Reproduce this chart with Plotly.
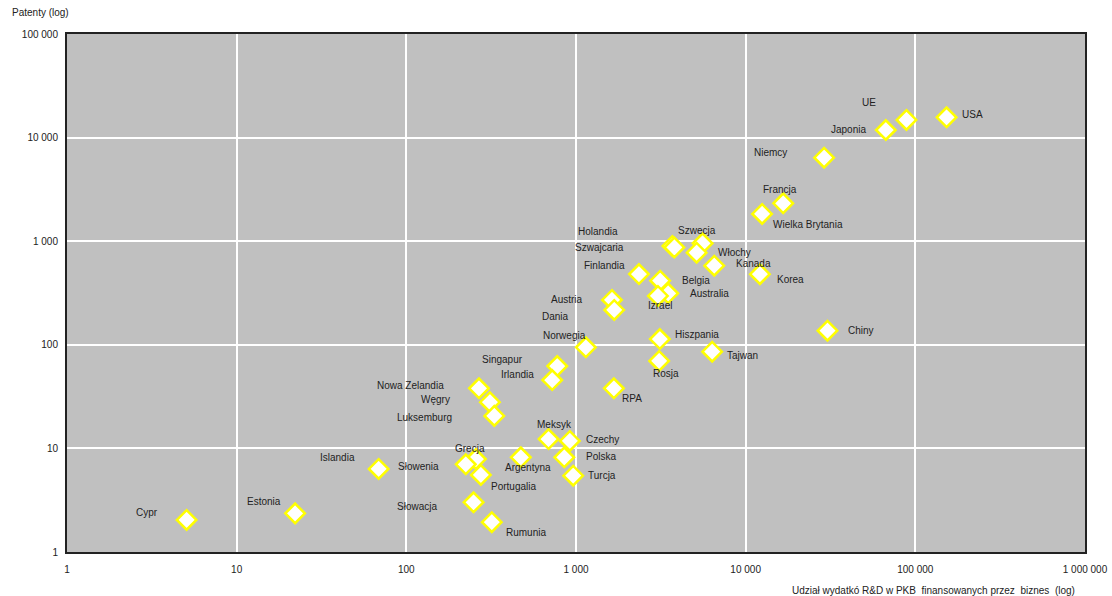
import math
import plotly.graph_objects as go

countries = ["USA", "UE", "Japonia", "Niemcy", "Francja", "Wielka Brytania",
             "Holandia", "Szwajcaria", "Szwecja", "Włochy", "Kanada", "Korea",
             "Finlandia", "Belgia", "Australia", "Izrael", "Austria", "Dania",
             "Norwegia", "Hiszpania", "Tajwan", "Chiny", "Rosja", "RPA",
             "Singapur", "Irlandia", "Nowa Zelandia", "Węgry", "Luksemburg",
             "Meksyk", "Czechy", "Polska", "Turcja", "Argentyna", "Grecja",
             "Słowenia", "Portugalia", "Słowacja", "Rumunia", "Islandia",
             "Estonia", "Cypr"]
rd_business = [152800, 88700, 67000, 29000, 16640, 12500,
               3700, 3800, 5570, 5140, 6530, 12130,
               2350, 3134, 3493, 3040, 1630, 1680,
               1143, 3120, 6350, 30360, 3092, 1672,
               775, 724, 268, 311, 330,
               689, 920, 853, 963, 473, 257,
               224, 275, 249, 319, 68.7,
               22.1, 5.07]
patents = [15700, 14790, 11840, 6400, 2323, 1832,
           900, 870, 955, 774, 580, 480,
           482, 416, 314, 296, 271, 217,
           94.6, 113.7, 85.8, 136.8, 69.8, 38.0,
           62.4, 45.7, 38.0, 27.9, 20.6,
           12.3, 11.8, 8.2, 5.45, 8.2, 7.9,
           7.03, 5.54, 3.02, 1.94, 6.33,
           2.36, 2.04]
# label placement: (xanchor, xshift px, yshift px up)
label_pos = {
    "USA": ("left", 13, 3), "UE": ("center", -38, 17), "Japonia": ("right", -18, 1),
    "Niemcy": ("right", -35, 5), "Francja": ("center", -3, 14),
    "Wielka Brytania": ("left", 9, -11), "Holandia": ("right", -52, 14),
    "Szwajcaria": ("right", -48, 0), "Szwecja": ("center", -6, 13),
    "Włochy": ("left", 19, 0), "Kanada": ("left", 20, 2), "Korea": ("left", 15, -5),
    "Finlandia": ("right", -12, 9), "Belgia": ("left", 20, 0),
    "Australia": ("left", 20, 0), "Izrael": ("center", 2, -10),
    "Austria": ("right", -27, 0), "Dania": ("right", -43, -7),
    "Norwegia": ("right", 2, 12), "Hiszpania": ("left", 13, 5),
    "Tajwan": ("left", 13, -4), "Chiny": ("left", 18, 0), "Rosja": ("center", 7, -13),
    "RPA": ("left", 6, -10), "Singapur": ("right", -32, 7),
    "Irlandia": ("right", -16, 6), "Nowa Zelandia": ("right", -33, 3),
    "Węgry": ("right", -38, 3), "Luksemburg": ("right", -40, -2),
    "Meksyk": ("center", 6, 15), "Czechy": ("left", 14, 1), "Polska": ("left", 20, 1),
    "Turcja": ("left", 13, 0), "Argentyna": ("center", 7, -10),
    "Grecja": ("center", -6, 11), "Słowenia": ("right", -25, -2),
    "Portugalia": ("left", 8, -12), "Słowacja": ("right", -35, -4),
    "Rumunia": ("left", 12, -10), "Islandia": ("right", -22, 11),
    "Estonia": ("right", -12, 12), "Cypr": ("right", -27, 7),
}
x_ticks = [1, 10, 100, 1000, 10000, 100000, 1000000]
x_ticktext = ["1", "10", "100", "1 000", "10 000", "100 000", "1 000 000"]
y_ticks = [1, 10, 100, 1000, 10000, 100000]
y_ticktext = ["1", "10", "100", "1 000", "10 000", "100 000"]

FONT = "Liberation Sans, Arial, sans-serif"
TXT = "#222222"
fig = go.Figure()
fig.add_trace(go.Scatter(
    x=rd_business, y=patents, mode="markers",
    marker=dict(symbol="diamond", size=15, color="white",
                line=dict(color="#ffff00", width=2.5)),
    hoverinfo="text", text=countries, showlegend=False))

for name, xv, yv in zip(countries, rd_business, patents):
    anchor, xs, ys = label_pos[name]
    # annotations on log axes take log10 coordinates
    fig.add_annotation(x=math.log10(xv), y=math.log10(yv), xref="x", yref="y",
                       text=name, showarrow=False,
                       xanchor=anchor, yanchor="middle", xshift=xs, yshift=ys,
                       font=dict(family=FONT, size=10, color=TXT))

fig.add_annotation(xref="paper", yref="paper", x=0, y=1, text="Patenty (log)",
                   showarrow=False, xanchor="left", yanchor="middle",
                   xshift=-57, yshift=22, font=dict(family=FONT, size=10, color=TXT))
fig.add_annotation(xref="paper", yref="paper", x=1, y=0,
                   text="Udział wydatkó R&D w PKB  finansowanych przez  biznes  (log)",
                   showarrow=False, xanchor="right", yanchor="middle",
                   xshift=-8, yshift=-38, font=dict(family=FONT, size=10, color=TXT))

fig.update_layout(
    width=1112, height=596,
    margin=dict(l=67, r=27, t=34, b=44, autoexpand=False),
    paper_bgcolor="white", plot_bgcolor="#c0c0c0",
    font=dict(family=FONT, size=10, color=TXT),
    xaxis=dict(type="log", range=[0, 6], tickvals=x_ticks, ticktext=x_ticktext,
               showgrid=True, gridcolor="white", gridwidth=2, zeroline=False,
               showline=True, linecolor="#222222", linewidth=2, mirror=True,
               ticks="", ticklabelstandoff=7, automargin=False),
    yaxis=dict(type="log", range=[0, 5], tickvals=y_ticks, ticktext=y_ticktext,
               showgrid=True, gridcolor="white", gridwidth=2, zeroline=False,
               showline=True, linecolor="#222222", linewidth=2, mirror=True,
               ticks="", ticklabelstandoff=5, automargin=False),
)
fig.write_html("out.html")
